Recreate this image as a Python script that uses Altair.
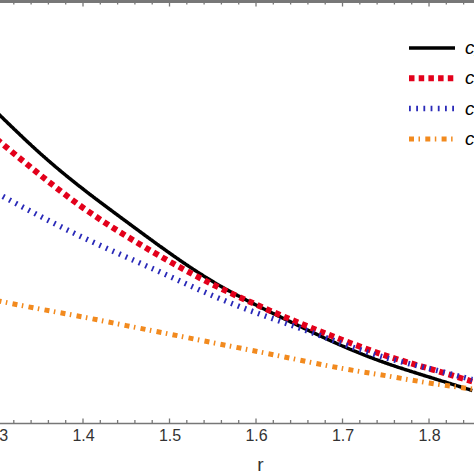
import altair as alt
import pandas as pd

# Radial coordinate samples and the four curves
r_values = [1.30, 1.35, 1.40, 1.45, 1.50, 1.55, 1.60, 1.65, 1.70, 1.75, 1.80, 1.85]
series_names = ["c₁", "c₂", "c₃", "c₄"]
curve_1 = [3.11, 2.70, 2.34, 2.015, 1.70, 1.415, 1.18, 0.97, 0.77, 0.60, 0.46, 0.325]
curve_2 = [2.84, 2.484, 2.153, 1.87, 1.615, 1.385, 1.185, 1.00, 0.83, 0.674, 0.544, 0.415]
curve_3 = [2.30, 2.07, 1.855, 1.66, 1.467, 1.273, 1.103, 0.95, 0.793, 0.653, 0.545, 0.434]
curve_4 = [1.225, 1.14, 1.06, 0.974, 0.889, 0.803, 0.718, 0.63, 0.545, 0.473, 0.40, 0.34]

# Axis ticks
major_ticks = [1.3, 1.4, 1.5, 1.6, 1.7, 1.8]
minor_ticks = [1.30, 1.32, 1.34, 1.36, 1.38, 1.40, 1.42, 1.44, 1.46, 1.48,
               1.50, 1.52, 1.54, 1.56, 1.58, 1.60, 1.62, 1.64, 1.66, 1.68,
               1.70, 1.72, 1.74, 1.76, 1.78, 1.80, 1.82, 1.84]

# Line styles
colors = ["#000000", "#e3001b", "#2a2ab8", "#f28a1e"]
dashes = [[1, 0], [5.5, 4.2], [1.8, 5.4], [5, 4.5, 1.5, 5.3]]
widths = [3.5, 6, 5.5, 5]

axis_gray = "#777777"
label_gray = "#333333"
font = "Liberation Sans"

rows = []
for name, vals in zip(series_names, [curve_1, curve_2, curve_3, curve_4]):
    for r, v in zip(r_values, vals):
        rows.append({"series": name, "r": r, "value": v})
df = pd.DataFrame(rows)

ticks_df = pd.DataFrame({
    "r": minor_ticks,
    "major": [any(abs(t - m) < 1e-9 for m in major_ticks) for t in minor_ticks],
})

x_scale = alt.Scale(domain=[1.3, 1.852], range=[-3.5, 474], nice=False, zero=False)
y_scale = alt.Scale(domain=[0, 4.22], nice=False, zero=False)

x_axis = alt.Axis(
    values=major_ticks, format=".1f", ticks=False, grid=False,
    domainColor=axis_gray, domainWidth=1.5,
    labelFont=font, labelFontSize=16, labelColor=label_gray,
    labelPadding=4, labelFlush=False, labelOverlap=False,
    title="r", titleFont=font, titleFontSize=19, titleFontWeight="normal",
    titleColor=label_gray, titleX=260, titleY=47, titleBaseline="alphabetic",
    titleAlign="center",
)
x_enc = alt.X("r:Q", scale=x_scale, axis=x_axis)

legend = alt.Legend(
    orient="none", legendX=406, legendY=35, title=None,
    symbolType="stroke", symbolSize=2116, clipHeight=24, rowPadding=6.3,
    labelOffset=7, labelFont=font, labelFontStyle="italic",
    labelFontSize=19, labelColor="black", padding=0,
)

lines = alt.Chart(df).mark_line(clip=True, interpolate="natural").encode(
    x=x_enc,
    y=alt.Y("value:Q", scale=y_scale, axis=None),
    color=alt.Color("series:N", scale=alt.Scale(domain=series_names, range=colors), legend=legend),
    strokeDash=alt.StrokeDash("series:N", scale=alt.Scale(domain=series_names, range=dashes), legend=legend),
    strokeWidth=alt.StrokeWidth("series:N", scale=alt.Scale(type="ordinal", domain=series_names, range=widths), legend=legend),
)

# Inward-pointing ticks on the bottom and top frame edges
tick_base = alt.Chart(ticks_df).mark_rule(color=axis_gray, strokeWidth=1.3)
minor_only = alt.datum.major == False
major_only = alt.datum.major == True

bottom_minor = tick_base.transform_filter(minor_only).encode(x=x_enc, y=alt.value(422), y2=alt.value(419))
bottom_major = tick_base.transform_filter(major_only).encode(x=x_enc, y=alt.value(422), y2=alt.value(417.5))
top_minor = tick_base.transform_filter(minor_only).encode(x=x_enc, y=alt.value(0), y2=alt.value(3.5))
top_major = tick_base.transform_filter(major_only).encode(x=x_enc, y=alt.value(0), y2=alt.value(5.5))

top_line = alt.Chart(ticks_df).mark_rule(color=axis_gray, strokeWidth=1.5).encode(
    x=alt.value(0), x2=alt.value(474), y=alt.value(0.5)
)

chart = alt.layer(
    lines, bottom_minor, bottom_major, top_minor, top_major, top_line
).properties(
    width=474, height=422,
    autosize=alt.AutoSizeParams(type="none"),
    padding={"left": 0, "right": 0, "top": 1, "bottom": 51},
    background="white",
).configure_view(stroke=None)

chart.save("out.html", embed_options={"renderer": "svg", "actions": False})
